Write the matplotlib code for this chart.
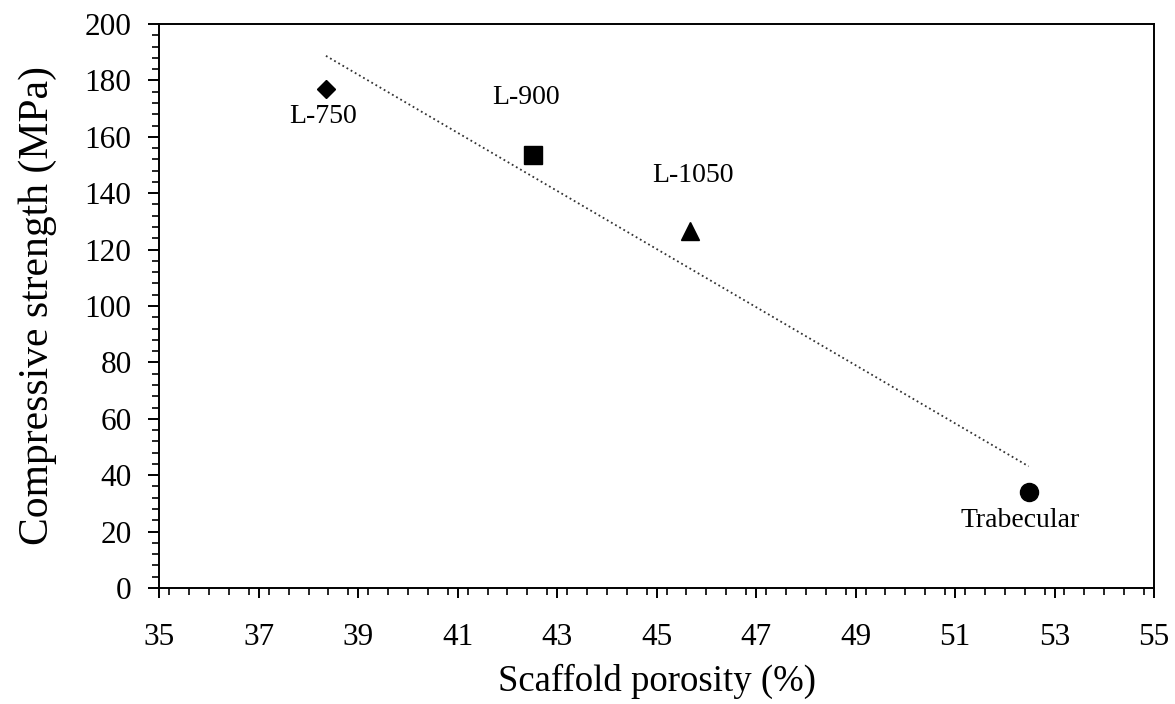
import numpy as np
import matplotlib
matplotlib.use("Agg")
import matplotlib.pyplot as plt
from matplotlib.ticker import FixedLocator, MultipleLocator


# scaffold data
labels = ["L-750", "L-900", "L-1050", "Trabecular"]
porosity = [38.35, 42.52, 45.68, 52.48]
strength = [176.8, 153.5, 126.6, 33.9]
markers = ["D", "s", "^", "o"]
marker_sizes = [9, 13, 13, 13]

x_ticks = [35, 37, 39, 41, 43, 45, 47, 49, 51, 53, 55]

# label offsets in data units (dx, dy)
label_offsets = [(-0.05, -9.5), (-0.15, 20.5), (0.05, 19.5), (-0.18, -10.0)]

plt.rcParams["font.family"] = ["Liberation Serif", "DejaVu Serif"]


def main():
    fig = plt.figure(figsize=(11.75, 7.04), dpi=100)
    ax = fig.add_axes([0.1356, 0.1648, 0.8465, 0.8011])

    slope, intercept = np.polyfit(porosity, strength, 1)
    x_fit = np.array([min(porosity), max(porosity)])
    ax.plot(x_fit, slope * x_fit + intercept, linestyle=":", color="#333333", lw=1.3)

    for x, y, m, ms in zip(porosity, strength, markers, marker_sizes):
        ax.plot(x, y, marker=m, markersize=ms, color="black", linestyle="none")

    for label, x, y, (dx, dy) in zip(labels, porosity, strength, label_offsets):
        ax.text(x + dx, y + dy, label, fontsize=20, ha="center", va="center")

    ax.set_xlim(35, 55)
    ax.set_ylim(0, 200)
    ax.xaxis.set_major_locator(FixedLocator(x_ticks))
    ax.xaxis.set_minor_locator(MultipleLocator(0.4))
    ax.yaxis.set_major_locator(MultipleLocator(20))
    ax.yaxis.set_minor_locator(MultipleLocator(4))

    for spine in ax.spines.values():
        spine.set_linewidth(1.4)

    ax.tick_params(axis="x", which="major", direction="out", length=7, width=1.4,
                   labelsize=22.5, pad=18)
    ax.tick_params(axis="y", which="major", direction="out", length=8, width=1.4,
                   labelsize=22.5, pad=12)
    ax.tick_params(which="minor", direction="out", length=5, width=1.2)
    ax.tick_params(top=False, right=False, which="both")

    ax.set_xlabel("Scaffold porosity (%)", fontsize=26.5, labelpad=9)
    ax.set_ylabel("Compressive strength (MPa)", fontsize=30, labelpad=20)

    fig.savefig("out.png", dpi=100)


if __name__ == "__main__":
    main()
